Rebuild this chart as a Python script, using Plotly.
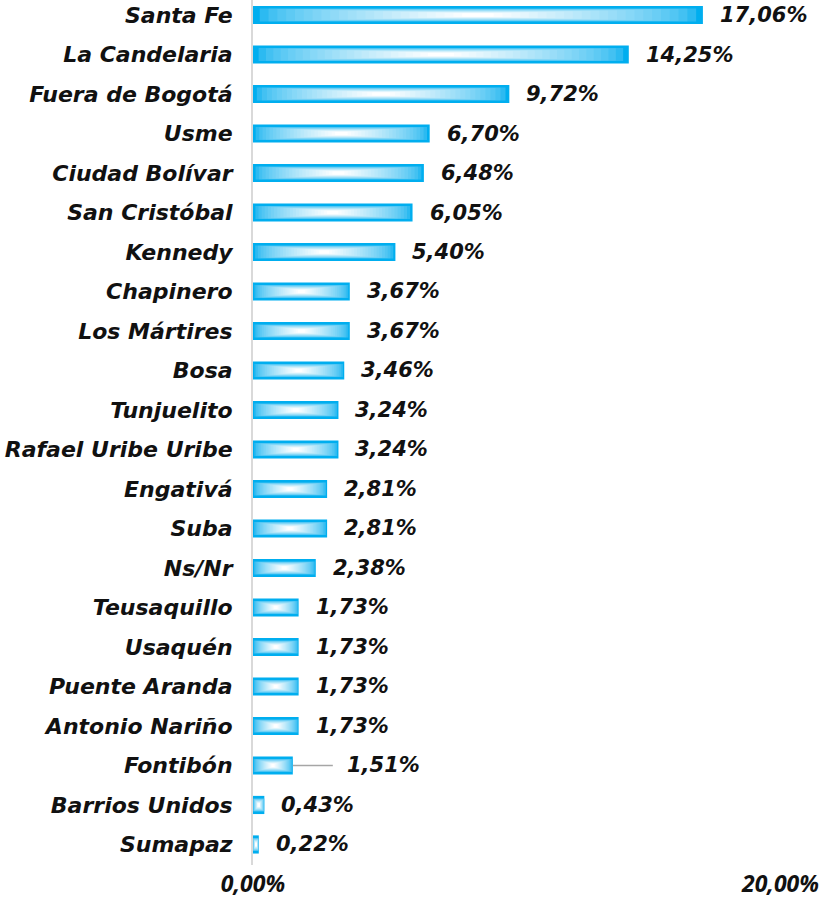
import plotly.graph_objects as go

categories = ["Santa Fe", "La Candelaria", "Fuera de Bogotá", "Usme", "Ciudad Bolívar",
              "San Cristóbal", "Kennedy", "Chapinero", "Los Mártires", "Bosa", "Tunjuelito",
              "Rafael Uribe Uribe", "Engativá", "Suba", "Ns/Nr", "Teusaquillo", "Usaquén",
              "Puente Aranda", "Antonio Nariño", "Fontibón", "Barrios Unidos", "Sumapaz"]
values = [17.06, 14.25, 9.72, 6.70, 6.48, 6.05, 5.40, 3.67, 3.67, 3.46, 3.24,
          3.24, 2.81, 2.81, 2.38, 1.73, 1.73, 1.73, 1.73, 1.51, 0.43, 0.22]
tick_vals = [0, 20]
tick_text = ["0,00%", "20,00%"]
leader_category = "Fontibón"

def fmt(v):
    return f"{v:.2f}".replace(".", ",") + "%"

def bi(s):
    return f"<b><i>{s}</i></b>"

fig = go.Figure()

# outer solid bar
fig.add_trace(go.Bar(y=categories, x=values, orientation="h", width=0.46,
                     marker=dict(color="#00AEEF", line=dict(width=0)),
                     hoverinfo="skip", showlegend=False))

# stacked inner layers to mimic the glossy gradient (style only)
n_layers = 24
c0 = (0x2C, 0xBA, 0xF1)
c1 = (0xFF, 0xFF, 0xFF)
for i in range(n_layers):
    t = i / (n_layers - 1)
    length = 0.97 - 0.9 * t
    start = (1 - length) / 2
    width = 0.33 - 0.25 * t
    tc = t ** 0.7
    col = "#%02X%02X%02X" % tuple(int(a + (b - a) * tc) for a, b in zip(c0, c1))
    fig.add_trace(go.Bar(
        y=categories,
        x=[v * length for v in values],
        base=[v * start for v in values],
        orientation="h",
        width=width,
        marker=dict(color=col, line=dict(width=0)),
        hoverinfo="skip",
        showlegend=False,
    ))

label_font = dict(family="DejaVu Sans", size=21, color="#111111", weight="bold", style="italic")
for cat, v in zip(categories, values):
    if cat == leader_category:
        fig.add_annotation(x=v, y=cat, text=bi(fmt(v)), showarrow=True, arrowhead=0,
                           arrowwidth=1.5, arrowcolor="#A6A6A6", ax=52, ay=0,
                           startstandoff=12, xanchor="left", font=label_font)
    else:
        fig.add_annotation(x=v, y=cat, text=bi(fmt(v)), showarrow=False, xanchor="left",
                           xshift=15, font=label_font)

fig.update_layout(
    barmode="overlay",
    width=820, height=911,
    margin=dict(l=253, r=0, t=0, b=46),
    plot_bgcolor="white", paper_bgcolor="white",
    xaxis=dict(range=[0, 21.5], tickvals=tick_vals, ticktext=[bi(t) for t in tick_text],
               showgrid=False, zeroline=False, showline=False, ticks="",
               ticklabelstandoff=3, automargin=False,
               tickfont=dict(family="Noto Sans", size=23, color="#111111", weight="bold", style="italic")),
    yaxis=dict(tickvals=categories, ticktext=[bi(c) for c in categories],
               categoryorder="array", categoryarray=categories,
               range=[21.52, -0.38], showgrid=False, zeroline=False,
               showline=True, linecolor="#D9D9D9", linewidth=2, ticks="",
               ticklabelstandoff=14, automargin=False,
               tickfont=dict(family="DejaVu Sans", size=22, color="#111111", weight="bold", style="italic")),
)

fig.write_html("out.html", config={"displayModeBar": False},
               post_script="document.body.style.margin='0';")
